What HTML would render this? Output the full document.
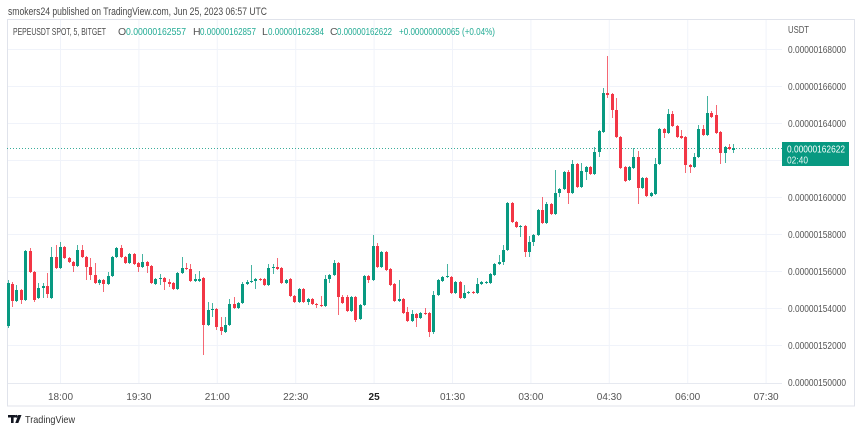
<!DOCTYPE html>
<html><head><meta charset="utf-8">
<style>
html,body{margin:0;padding:0;background:#fff;}
#w{position:relative;width:860px;height:432px;overflow:hidden;background:#fff;}
#bg{position:absolute;left:0;top:0;}
#c{position:absolute;left:6.12px;top:0;height:432px;display:flex;}
#c i{position:relative;display:block;width:4.356px;flex:none;height:432px;}
#c i::before{content:"";position:absolute;left:calc(50% - 0.5px);width:1px;top:calc(var(--h)*1px);height:calc((var(--l) - var(--h))*1px);background:var(--c);opacity:.75;}
#c i::after{content:"";position:absolute;left:calc(50% - 1.5px);width:3px;top:calc(var(--t)*1px);height:calc((var(--b) - var(--t))*1px);background:var(--c);}
.g{--c:#089981}.r{--c:#f23645}
text{font-family:"Liberation Sans",sans-serif;}
</style></head><body><div id="w">
<svg id="bg" width="860" height="432" viewBox="0 0 860 432">
<g stroke="#f0f3fa" stroke-width="1">
<line x1="7" y1="49.5" x2="782" y2="49.5"/>
<line x1="7" y1="86.5" x2="782" y2="86.5"/>
<line x1="7" y1="123.5" x2="782" y2="123.5"/>
<line x1="7" y1="160.5" x2="782" y2="160.5"/>
<line x1="7" y1="197.5" x2="782" y2="197.5"/>
<line x1="7" y1="234.5" x2="782" y2="234.5"/>
<line x1="7" y1="271.5" x2="782" y2="271.5"/>
<line x1="7" y1="308.5" x2="782" y2="308.5"/>
<line x1="7" y1="345.5" x2="782" y2="345.5"/>
<line x1="60.5" y1="19" x2="60.5" y2="384"/>
<line x1="138.9" y1="19" x2="138.9" y2="384"/>
<line x1="217.3" y1="19" x2="217.3" y2="384"/>
<line x1="295.7" y1="19" x2="295.7" y2="384"/>
<line x1="374.1" y1="19" x2="374.1" y2="384"/>
<line x1="452.5" y1="19" x2="452.5" y2="384"/>
<line x1="530.9" y1="19" x2="530.9" y2="384"/>
<line x1="609.3" y1="19" x2="609.3" y2="384"/>
<line x1="687.7" y1="19" x2="687.7" y2="384"/>
<line x1="766.1" y1="19" x2="766.1" y2="384"/>
</g>
<line x1="7" y1="383.5" x2="782" y2="383.5" stroke="#e6e9f0"/>
<rect x="7.5" y="19.5" width="847" height="386.5" fill="none" stroke="#e0e3eb"/>
<line x1="7" y1="148.5" x2="782" y2="148.5" stroke="#089981" stroke-dasharray="1 2" opacity="0.8"/>

<text x="8" y="15" font-size="11" fill="#4a4a4a" textLength="259" lengthAdjust="spacingAndGlyphs">smokers24 published on TradingView.com, Jun 25, 2023 06:57 UTC</text>
<g font-size="10.5">
<text x="13" y="35" fill="#4a4a4a" textLength="93" lengthAdjust="spacingAndGlyphs">PEPEUSDT SPOT, 5, BITGET</text>
<text x="118" y="35" fill="#555">O</text>
<text x="126" y="35" fill="#22ab94" textLength="60" lengthAdjust="spacingAndGlyphs">0.00000162557</text>
<text x="193" y="35" fill="#555">H</text>
<text x="200" y="35" fill="#22ab94" textLength="56" lengthAdjust="spacingAndGlyphs">0.00000162857</text>
<text x="262" y="35" fill="#555">L</text>
<text x="268" y="35" fill="#22ab94" textLength="56" lengthAdjust="spacingAndGlyphs">0.00000162384</text>
<text x="330" y="35" fill="#555">C</text>
<text x="337" y="35" fill="#22ab94" textLength="55" lengthAdjust="spacingAndGlyphs">0.00000162622</text>
<text x="399" y="35" fill="#22ab94" textLength="96" lengthAdjust="spacingAndGlyphs">+0.00000000065 (+0.04%)</text>
</g>

<g font-size="10" fill="#555">
<text x="788" y="33" textLength="21" lengthAdjust="spacingAndGlyphs">USDT</text>
<text x="788" y="53" textLength="58" lengthAdjust="spacingAndGlyphs">0.00000168000</text>
<text x="788" y="90" textLength="58" lengthAdjust="spacingAndGlyphs">0.00000166000</text>
<text x="788" y="127" textLength="58" lengthAdjust="spacingAndGlyphs">0.00000164000</text>
<text x="788" y="201" textLength="58" lengthAdjust="spacingAndGlyphs">0.00000160000</text>
<text x="788" y="238" textLength="58" lengthAdjust="spacingAndGlyphs">0.00000158000</text>
<text x="788" y="275" textLength="58" lengthAdjust="spacingAndGlyphs">0.00000156000</text>
<text x="788" y="312" textLength="58" lengthAdjust="spacingAndGlyphs">0.00000154000</text>
<text x="788" y="349" textLength="58" lengthAdjust="spacingAndGlyphs">0.00000152000</text>
<text x="788" y="386" textLength="58" lengthAdjust="spacingAndGlyphs">0.00000150000</text>
</g>
<rect x="782" y="142" width="67" height="24" fill="#089981"/>
<text x="787" y="152.5" font-size="10" fill="#fff" textLength="58" lengthAdjust="spacingAndGlyphs">0.00000162622</text>
<text x="787" y="163.5" font-size="10" fill="#e8f6f3" textLength="21" lengthAdjust="spacingAndGlyphs">02:40</text>

<g font-size="10" fill="#555" text-anchor="middle">
<text x="60.5" y="400">18:00</text>
<text x="138.9" y="400">19:30</text>
<text x="217.3" y="400">21:00</text>
<text x="295.7" y="400">22:30</text>
<text x="374.1" y="400" font-weight="bold" fill="#222">25</text>
<text x="452.5" y="400">01:30</text>
<text x="530.9" y="400">03:00</text>
<text x="609.3" y="400">04:30</text>
<text x="687.7" y="400">06:00</text>
<text x="766.1" y="400">07:30</text>
</g>

<g fill="#131722">
<rect x="8" y="415" width="7" height="2.5"/>
<rect x="11" y="415" width="2.6" height="8"/>
<circle cx="16.3" cy="416.3" r="1.4"/>
<polygon points="18.2,415 21.5,415 18.3,423 15.3,423"/>
</g>
<text x="25" y="423" font-size="10.5" fill="#333" textLength="50" lengthAdjust="spacingAndGlyphs">TradingView</text>
</svg>

<div id="c">
<i class=g style="--t:283;--b:326;--h:280;--l:328"></i>
<i class=r style="--t:284;--b:301;--h:282;--l:307"></i>
<i class=g style="--t:290;--b:301;--h:285;--l:302"></i>
<i class=r style="--t:290;--b:300;--h:289;--l:304"></i>
<i class=g style="--t:251;--b:300;--h:250;--l:301"></i>
<i class=r style="--t:251;--b:272;--h:248;--l:273"></i>
<i class=r style="--t:272;--b:300;--h:271;--l:302"></i>
<i class=g style="--t:288;--b:298;--h:283;--l:299"></i>
<i class=g style="--t:286;--b:288;--h:283;--l:298"></i>
<i class=r style="--t:286;--b:294;--h:273;--l:298"></i>
<i class=g style="--t:257;--b:298;--h:247;--l:299"></i>
<i class=r style="--t:257;--b:268;--h:245;--l:269"></i>
<i class=g style="--t:247;--b:268;--h:242;--l:269"></i>
<i class=r style="--t:247;--b:258;--h:246;--l:259"></i>
<i class=r style="--t:258;--b:262;--h:257;--l:263"></i>
<i class=r style="--t:262;--b:266;--h:261;--l:272"></i>
<i class=g style="--t:250;--b:266;--h:245;--l:267"></i>
<i class=r style="--t:250;--b:257;--h:245;--l:258"></i>
<i class=r style="--t:257;--b:267;--h:256;--l:280"></i>
<i class=r style="--t:267;--b:275;--h:258;--l:280"></i>
<i class=r style="--t:275;--b:283;--h:263;--l:284"></i>
<i class=g style="--t:280;--b:283;--h:279;--l:285"></i>
<i class=r style="--t:280;--b:284;--h:279;--l:292"></i>
<i class=g style="--t:276;--b:284;--h:272;--l:285"></i>
<i class=g style="--t:257;--b:276;--h:256;--l:277"></i>
<i class=g style="--t:248;--b:257;--h:247;--l:258"></i>
<i class=r style="--t:248;--b:257;--h:245;--l:258"></i>
<i class=r style="--t:257;--b:263;--h:256;--l:264"></i>
<i class=g style="--t:254;--b:263;--h:253;--l:264"></i>
<i class=r style="--t:254;--b:264;--h:253;--l:265"></i>
<i class=r style="--t:263;--b:267;--h:262;--l:272"></i>
<i class=g style="--t:262;--b:267;--h:254;--l:268"></i>
<i class=r style="--t:262;--b:266;--h:261;--l:273"></i>
<i class=r style="--t:266;--b:283;--h:265;--l:284"></i>
<i class=g style="--t:279;--b:284;--h:278;--l:285"></i>
<i class=g style="--t:278;--b:279;--h:274;--l:285"></i>
<i class=r style="--t:278;--b:282;--h:277;--l:290"></i>
<i class=r style="--t:282;--b:284;--h:279;--l:287"></i>
<i class=r style="--t:283;--b:289;--h:282;--l:290"></i>
<i class=g style="--t:273;--b:289;--h:272;--l:290"></i>
<i class=g style="--t:268;--b:273;--h:257;--l:274"></i>
<i class=r style="--t:268;--b:269;--h:263;--l:270"></i>
<i class=r style="--t:269;--b:281;--h:264;--l:282"></i>
<i class=g style="--t:279;--b:281;--h:274;--l:282"></i>
<i class=g style="--t:279;--b:281;--h:271;--l:282"></i>
<i class=r style="--t:278;--b:325;--h:277;--l:355"></i>
<i class=g style="--t:310;--b:325;--h:302;--l:326"></i>
<i class=g style="--t:309;--b:310;--h:303;--l:317"></i>
<i class=r style="--t:309;--b:327;--h:308;--l:330"></i>
<i class=r style="--t:327;--b:331;--h:317;--l:335"></i>
<i class=g style="--t:325;--b:332;--h:317;--l:333"></i>
<i class=g style="--t:304;--b:325;--h:299;--l:326"></i>
<i class=r style="--t:304;--b:308;--h:297;--l:309"></i>
<i class=g style="--t:303;--b:308;--h:302;--l:309"></i>
<i class=g style="--t:284;--b:303;--h:282;--l:304"></i>
<i class=g style="--t:282;--b:284;--h:280;--l:285"></i>
<i class=g style="--t:281;--b:282;--h:265;--l:283"></i>
<i class=g style="--t:279;--b:281;--h:278;--l:289"></i>
<i class=r style="--t:279;--b:280;--h:278;--l:281"></i>
<i class=r style="--t:279;--b:285;--h:278;--l:286"></i>
<i class=g style="--t:268;--b:285;--h:264;--l:286"></i>
<i class=g style="--t:267;--b:268;--h:264;--l:274"></i>
<i class=r style="--t:267;--b:269;--h:258;--l:270"></i>
<i class=r style="--t:268;--b:283;--h:267;--l:284"></i>
<i class=g style="--t:280;--b:283;--h:279;--l:284"></i>
<i class=r style="--t:279;--b:296;--h:278;--l:297"></i>
<i class=r style="--t:296;--b:302;--h:295;--l:303"></i>
<i class=g style="--t:289;--b:302;--h:288;--l:303"></i>
<i class=r style="--t:289;--b:302;--h:288;--l:303"></i>
<i class=g style="--t:299;--b:302;--h:298;--l:305"></i>
<i class=r style="--t:299;--b:304;--h:298;--l:305"></i>
<i class=r style="--t:304;--b:305;--h:303;--l:308"></i>
<i class=r style="--t:305;--b:306;--h:296;--l:307"></i>
<i class=g style="--t:279;--b:306;--h:275;--l:307"></i>
<i class=g style="--t:275;--b:279;--h:274;--l:283"></i>
<i class=g style="--t:263;--b:275;--h:260;--l:276"></i>
<i class=r style="--t:263;--b:297;--h:262;--l:315"></i>
<i class=r style="--t:297;--b:303;--h:295;--l:304"></i>
<i class=r style="--t:297;--b:311;--h:295;--l:312"></i>
<i class=g style="--t:297;--b:311;--h:296;--l:312"></i>
<i class=r style="--t:297;--b:320;--h:296;--l:322"></i>
<i class=g style="--t:305;--b:319;--h:304;--l:320"></i>
<i class=g style="--t:276;--b:305;--h:275;--l:306"></i>
<i class=r style="--t:276;--b:280;--h:275;--l:283"></i>
<i class=g style="--t:246;--b:280;--h:235;--l:281"></i>
<i class=r style="--t:246;--b:267;--h:243;--l:268"></i>
<i class=g style="--t:252;--b:267;--h:251;--l:268"></i>
<i class=r style="--t:252;--b:270;--h:251;--l:271"></i>
<i class=r style="--t:269;--b:285;--h:268;--l:286"></i>
<i class=r style="--t:284;--b:301;--h:283;--l:302"></i>
<i class=g style="--t:299;--b:301;--h:280;--l:302"></i>
<i class=r style="--t:299;--b:313;--h:298;--l:314"></i>
<i class=r style="--t:312;--b:321;--h:307;--l:322"></i>
<i class=g style="--t:314;--b:321;--h:310;--l:322"></i>
<i class=r style="--t:314;--b:318;--h:313;--l:327"></i>
<i class=g style="--t:313;--b:318;--h:312;--l:319"></i>
<i class=r style="--t:313;--b:314;--h:308;--l:315"></i>
<i class=r style="--t:313;--b:332;--h:312;--l:337"></i>
<i class=g style="--t:295;--b:332;--h:291;--l:334"></i>
<i class=g style="--t:280;--b:295;--h:279;--l:296"></i>
<i class=g style="--t:277;--b:281;--h:276;--l:282"></i>
<i class=g style="--t:276;--b:277;--h:264;--l:278"></i>
<i class=r style="--t:277;--b:293;--h:276;--l:294"></i>
<i class=g style="--t:282;--b:293;--h:281;--l:294"></i>
<i class=r style="--t:282;--b:298;--h:281;--l:299"></i>
<i class=g style="--t:293;--b:298;--h:285;--l:299"></i>
<i class=g style="--t:292;--b:293;--h:291;--l:294"></i>
<i class=r style="--t:292;--b:293;--h:291;--l:294"></i>
<i class=g style="--t:284;--b:293;--h:278;--l:294"></i>
<i class=g style="--t:282;--b:284;--h:281;--l:285"></i>
<i class=g style="--t:282;--b:283;--h:281;--l:284"></i>
<i class=g style="--t:274;--b:283;--h:273;--l:284"></i>
<i class=g style="--t:264;--b:275;--h:263;--l:276"></i>
<i class=g style="--t:262;--b:264;--h:255;--l:265"></i>
<i class=g style="--t:250;--b:262;--h:245;--l:265"></i>
<i class=g style="--t:203;--b:250;--h:202;--l:251"></i>
<i class=r style="--t:203;--b:222;--h:202;--l:223"></i>
<i class=r style="--t:222;--b:227;--h:221;--l:228"></i>
<i class=g style="--t:226;--b:227;--h:225;--l:237"></i>
<i class=r style="--t:226;--b:252;--h:225;--l:257"></i>
<i class=g style="--t:242;--b:252;--h:236;--l:257"></i>
<i class=g style="--t:235;--b:242;--h:234;--l:246"></i>
<i class=g style="--t:210;--b:235;--h:209;--l:236"></i>
<i class=r style="--t:210;--b:223;--h:197;--l:224"></i>
<i class=g style="--t:204;--b:223;--h:202;--l:224"></i>
<i class=r style="--t:204;--b:214;--h:203;--l:215"></i>
<i class=g style="--t:193;--b:214;--h:170;--l:215"></i>
<i class=g style="--t:189;--b:193;--h:188;--l:197"></i>
<i class=g style="--t:172;--b:189;--h:171;--l:190"></i>
<i class=r style="--t:172;--b:193;--h:170;--l:204"></i>
<i class=g style="--t:164;--b:193;--h:160;--l:194"></i>
<i class=r style="--t:164;--b:187;--h:163;--l:188"></i>
<i class=g style="--t:171;--b:187;--h:163;--l:188"></i>
<i class=g style="--t:167;--b:172;--h:166;--l:180"></i>
<i class=r style="--t:167;--b:174;--h:166;--l:175"></i>
<i class=g style="--t:152;--b:174;--h:147;--l:175"></i>
<i class=g style="--t:131;--b:152;--h:130;--l:157"></i>
<i class=g style="--t:93;--b:132;--h:88;--l:133"></i>
<i class=r style="--t:93;--b:95;--h:56;--l:98"></i>
<i class=r style="--t:94;--b:110;--h:93;--l:118"></i>
<i class=r style="--t:110;--b:137;--h:98;--l:138"></i>
<i class=r style="--t:137;--b:168;--h:136;--l:169"></i>
<i class=r style="--t:167;--b:181;--h:166;--l:182"></i>
<i class=g style="--t:167;--b:180;--h:166;--l:181"></i>
<i class=g style="--t:157;--b:168;--h:148;--l:169"></i>
<i class=r style="--t:157;--b:188;--h:151;--l:204"></i>
<i class=g style="--t:178;--b:188;--h:177;--l:189"></i>
<i class=r style="--t:178;--b:196;--h:177;--l:197"></i>
<i class=g style="--t:193;--b:196;--h:192;--l:197"></i>
<i class=g style="--t:164;--b:194;--h:158;--l:195"></i>
<i class=g style="--t:129;--b:164;--h:128;--l:165"></i>
<i class=r style="--t:129;--b:133;--h:128;--l:138"></i>
<i class=g style="--t:114;--b:133;--h:109;--l:134"></i>
<i class=r style="--t:114;--b:126;--h:111;--l:127"></i>
<i class=r style="--t:126;--b:137;--h:125;--l:138"></i>
<i class=r style="--t:136;--b:138;--h:130;--l:139"></i>
<i class=r style="--t:137;--b:165;--h:136;--l:173"></i>
<i class=r style="--t:165;--b:167;--h:164;--l:173"></i>
<i class=g style="--t:157;--b:167;--h:153;--l:168"></i>
<i class=g style="--t:129;--b:157;--h:125;--l:158"></i>
<i class=r style="--t:129;--b:135;--h:125;--l:136"></i>
<i class=g style="--t:113;--b:135;--h:96;--l:136"></i>
<i class=r style="--t:113;--b:117;--h:111;--l:118"></i>
<i class=r style="--t:115;--b:133;--h:105;--l:134"></i>
<i class=r style="--t:132;--b:153;--h:131;--l:164"></i>
<i class=g style="--t:147;--b:153;--h:146;--l:163"></i>
<i class=r style="--t:147;--b:149;--h:144;--l:150"></i>
<i class=g style="--t:148;--b:150;--h:144;--l:153"></i>
</div>
</div></body></html>
